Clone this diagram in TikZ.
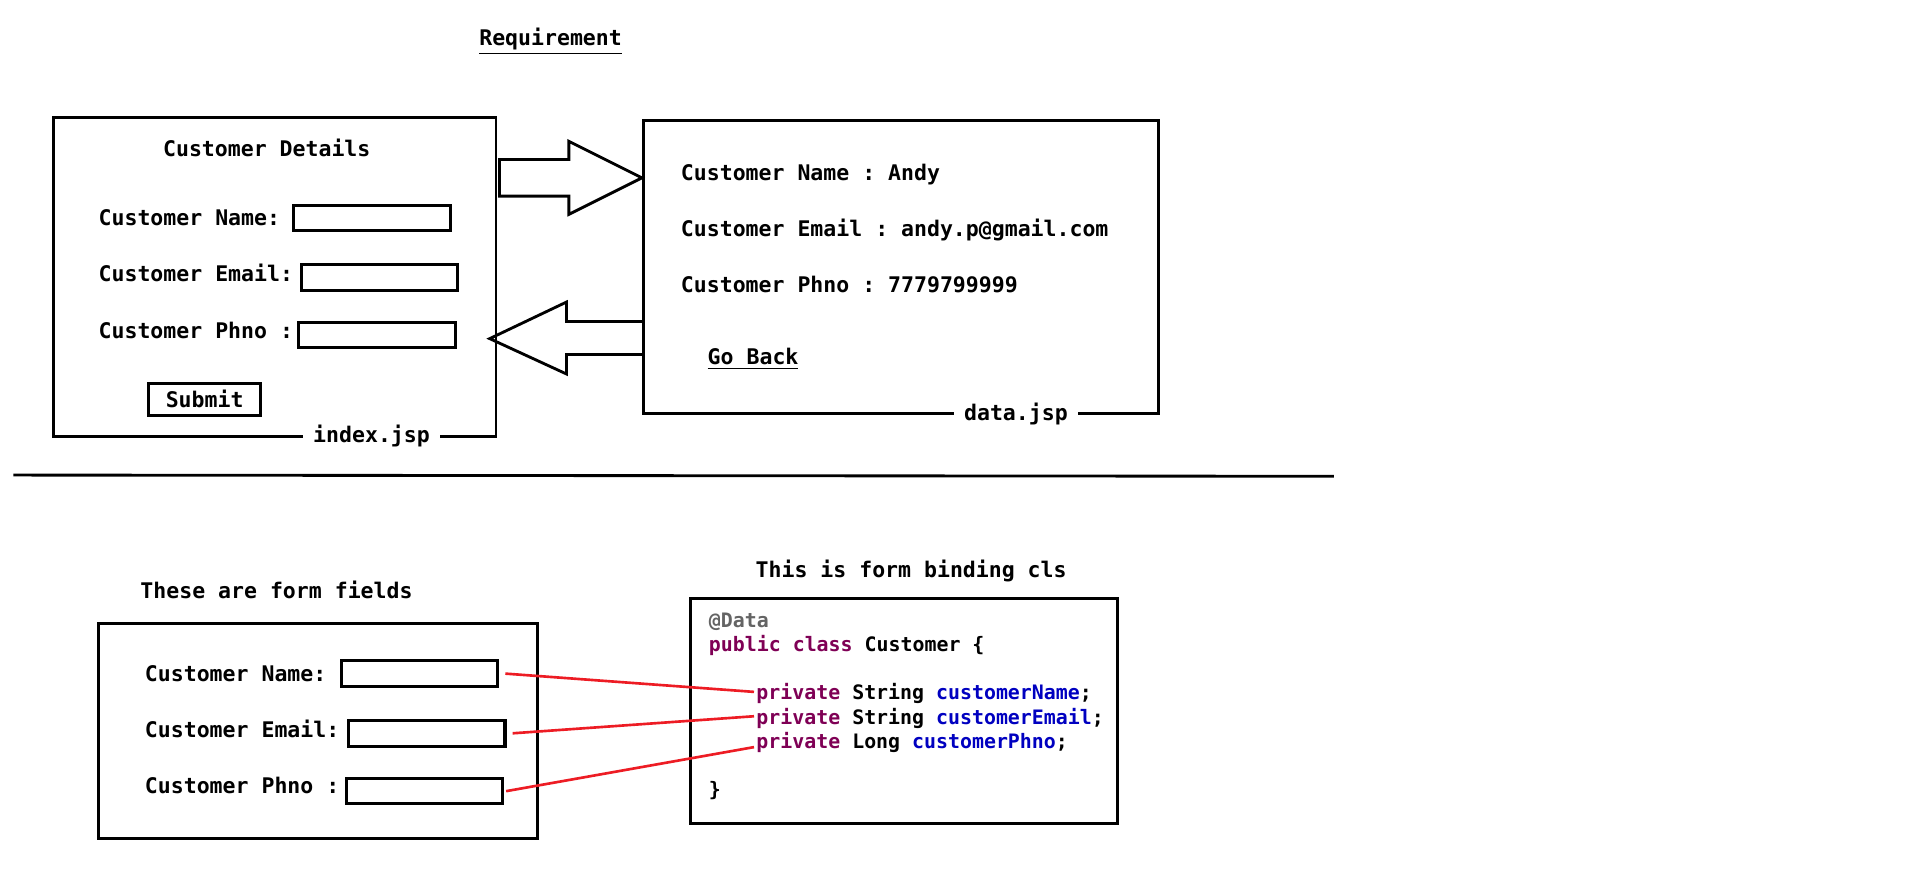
\documentclass[tikz,border=0pt]{standalone}
\usepackage{fontspec}
\setmonofont{DejaVu Sans Mono}
\usetikzlibrary{positioning}
\definecolor{kwpurple}{HTML}{7F0055}
\definecolor{fieldblue}{HTML}{0000C0}
\definecolor{annogray}{HTML}{646464}
\definecolor{linkred}{HTML}{ED1C24}
\tikzset{
  page/.style={draw, line width=1.4pt, inner sep=0pt, anchor=north west},
  inbox/.style={draw, line width=1.5pt, inner sep=0pt, minimum width=77pt, minimum height=12.6pt, anchor=west},
  lbl/.style={font=\ttfamily\bfseries\fontsize{10.6}{12}\selectfont, inner sep=1pt, text height=1.5ex, text depth=.25ex, yshift=-1.2pt},
  code/.style={font=\ttfamily\bfseries\fontsize{9.8}{11}\selectfont, anchor=west, inner sep=1pt, text height=1.5ex, text depth=.25ex, yshift=-1.2pt},
  link/.style={linkred, line width=1.3pt},
  blockarrow/.style={line width=1.4pt, line join=miter}
}
\begin{document}
\begin{tikzpicture}[x=0.6pt,y=-0.6pt]
\useasboundingbox (0,0) rectangle (1568,727);
% top: requirement
\node[lbl] (title) at (452,31) {\underline{Requirement}};
% index.jsp
\node[page, minimum width=217.8pt, minimum height=157.2pt] (idxbox) at (43,95) {};
\node[lbl] (idxtitle) at (219,122) {Customer Details};
\node[lbl, anchor=west] (idxname) at (79,179) {Customer Name:};
\node[lbl, anchor=west] (idxemail) at (79,225) {Customer Email:};
\node[lbl, anchor=west] (idxphno) at (79,271) {Customer Phno :};
\node[inbox] (inname) at (240,179) {};
\node[inbox] (inemail) at (246,228) {};
\node[inbox] (inphno) at (244,275) {};
\node[draw, line width=1.4pt, minimum width=55.2pt, minimum height=15.6pt, inner sep=0pt] (submit) at (168,328) {};
\node[lbl] at (submit) {Submit};
\node[lbl, fill=white, inner xsep=5pt] (idxfile) at (305,357) {index.jsp};
% data.jsp
\node[page, minimum width=253.8pt, minimum height=144pt] (databox) at (527,98) {};
\node[lbl, anchor=west] (dname) at (557,142) {Customer Name : Andy};
\node[lbl, anchor=west] (demail) at (557,188) {Customer Email : andy.p@gmail.com};
\node[lbl, anchor=west] (dphno) at (557,234) {Customer Phno : 7779799999};
\node[lbl, anchor=west] (goback) at (579,293) {\underline{Go Back}};
\node[lbl, fill=white, inner xsep=5pt] (datafile) at (834,339) {data.jsp};
% arrows between the pages
\draw[blockarrow] (410,131) -- (467,131) -- (467,116) -- (527,146) -- (467,176) -- (467,161) -- (410,161) -- cycle;
\draw[blockarrow] (527,264) -- (465,264) -- (465,248) -- (402,278) -- (465,307) -- (465,291) -- (527,291);
% separator
\draw[line width=1.4pt] (11,390) -- (1095,391);
% bottom: form fields
\node[lbl] (fftitle) at (227,485) {These are form fields};
\node[page, minimum width=216pt, minimum height=105.6pt] (ffbox) at (80,511) {};
\node[lbl, anchor=west] (ffname) at (117,553) {Customer Name:};
\node[lbl, anchor=west] (ffemail) at (117,599) {Customer Email:};
\node[lbl, anchor=west] (ffphno) at (117,645) {Customer Phno :};
\node[inbox] (fname) at (279,553) {};
\node[inbox] (femail) at (285,602) {};
\node[inbox] (fphno) at (283,649.5) {};
% bottom: binding class
\node[lbl] (clstitle) at (748,468) {This is form binding cls};
\node[page, minimum width=210pt, minimum height=111pt] (clsbox) at (566,490) {};
\node[code, text=annogray] (canno) at (580,509) {@Data};
\node[code] (cdecl) at (580,528) {\textcolor{kwpurple}{public class} Customer \{};
\node[code] (cname) at (619,568) {\textcolor{kwpurple}{private} String \textcolor{fieldblue}{customerName};};
\node[code] (cemail) at (619,588) {\textcolor{kwpurple}{private} String \textcolor{fieldblue}{customerEmail};};
\node[code] (cphno) at (619,608) {\textcolor{kwpurple}{private} Long \textcolor{fieldblue}{customerPhno};};
\node[code] (cclose) at (580,647) {\}};
% links field -> property
\draw[link] ([xshift=3pt]fname.east) -- ([yshift=1.2pt]cname.west);
\draw[link] ([xshift=3pt]femail.east) -- ([yshift=1.2pt]cemail.west);
\draw[link] ([xshift=1pt]fphno.east) -- ([yshift=-2pt]cphno.west);
\end{tikzpicture}
\end{document}
